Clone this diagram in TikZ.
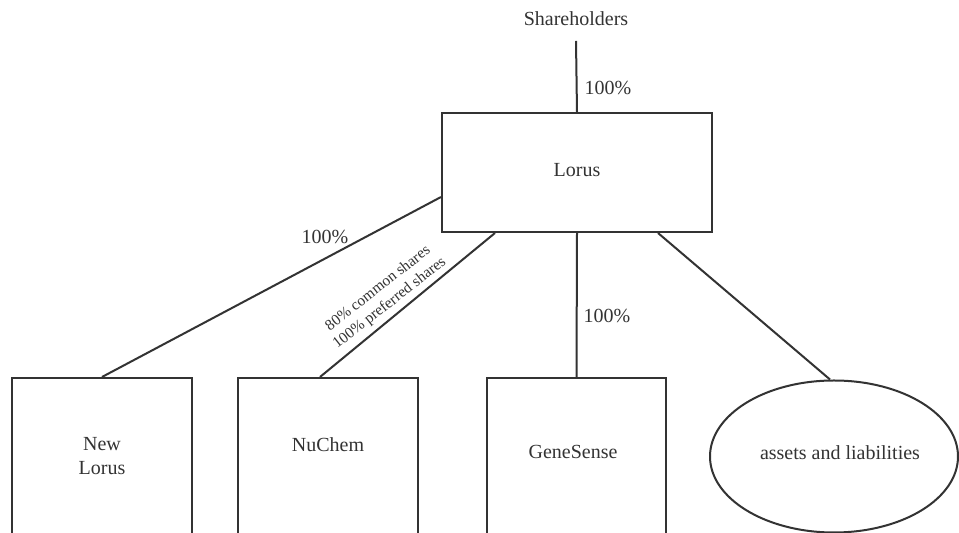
\documentclass[tikz,border=0pt]{standalone}
\usepackage{fontspec}
\setmainfont{Liberation Serif}
\usetikzlibrary{shapes.geometric,calc}
\definecolor{ink}{HTML}{333333}
\begin{document}
\begin{tikzpicture}[x=0.5pt,y=-0.5pt,
  line/.style={draw=ink,line width=1pt},
  box/.style={draw=ink,line width=1pt,rectangle,inner sep=0pt},
  txt/.style={text=ink,font=\fontsize{10}{12}\selectfont,inner sep=1pt,align=center},
  small/.style={text=ink,font=\fontsize{7.7}{9.4}\selectfont,inner sep=0pt,align=center}]
\useasboundingbox[fill=white] (0,0) rectangle (959,533);
% nodes
\node[txt] (sh) at (576,19) {Shareholders};
\coordinate (shbot) at (576,41);
\node[box,minimum width=135pt,minimum height=59.5pt] (lorus) at (577,172.5) {};
\node[txt] (lorustxt) at (577,170) {Lorus};
\node[box,minimum width=90pt,minimum height=91pt] (nl) at (102,469) {};
\node[txt] (nltxt) at (102,456) {New\\Lorus};
\node[box,minimum width=90pt,minimum height=91pt] (nc) at (328,469) {};
\node[txt] (nctxt) at (328,445) {NuChem};
\node[box,minimum width=89.5pt,minimum height=91pt] (gs) at (576.5,469) {};
\node[txt] (gstxt) at (573,452) {GeneSense};
\node[ellipse,draw=ink,line width=1pt,minimum width=124pt,minimum height=76pt,inner sep=0pt] (al) at (834,456.5) {};
\node[txt] (altxt) at (840,453) {assets and liabilities};
% connectors
\draw[line] (shbot) -- (lorus.north);
\draw[line] ($(lorus.west)+(0,24.5)$) -- (nl.north);
\draw[line] ($(lorus.south)+(-82,0)$) -- ($(nc.north)+(-8,0)$);
\draw[line] (lorus.south) -- (gs.north);
\draw[line] ($(lorus.south)+(81,0)$) -- ($(al.north)+(-4,0)$);
% labels
\node[txt] (l1) at (608,88) {100\%};
\node[txt] (l2) at (325,237) {100\%};
\node[txt] (l3) at (607,316) {100\%};
\node[small,rotate=38] (l4) at (384,296) {80\% common shares\\100\% preferred shares};
\end{tikzpicture}
\end{document}
